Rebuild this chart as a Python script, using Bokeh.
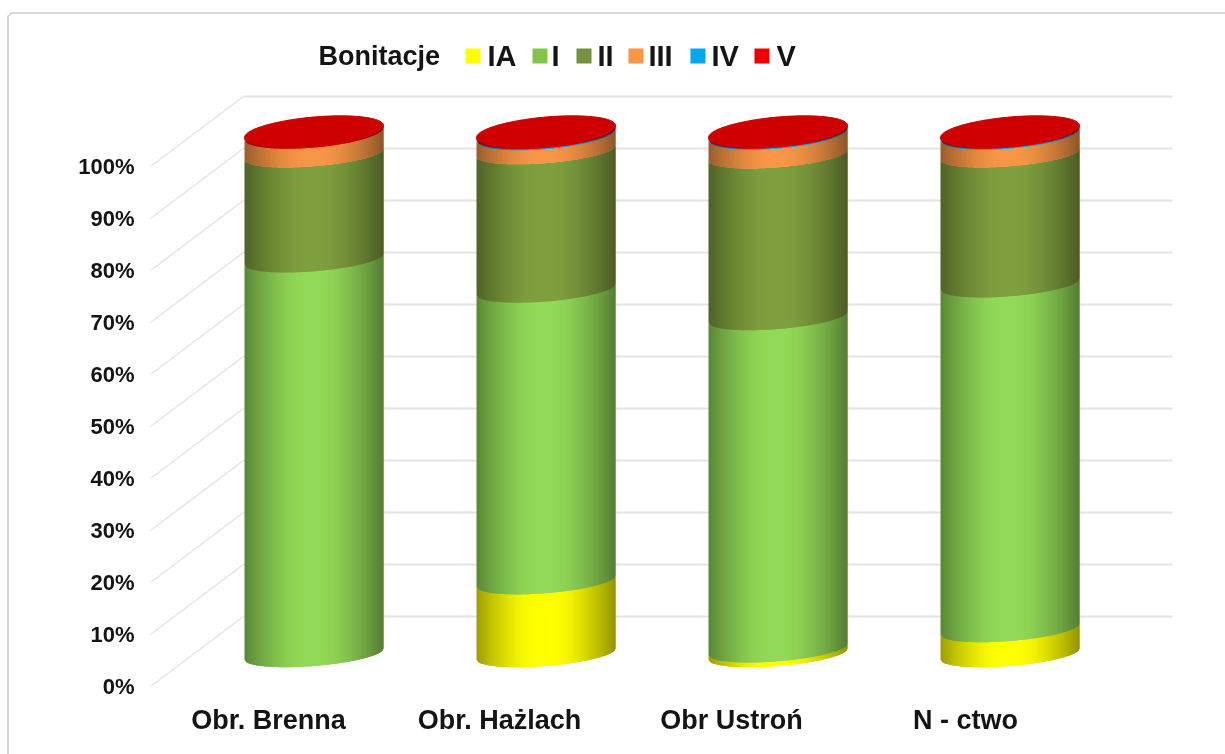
import numpy as np
from bokeh.core.properties import value
from bokeh.embed import file_html
from bokeh.models import Range1d
from bokeh.plotting import figure
from bokeh.resources import INLINE

# ---- data -------------------------------------------------------------
categories = ["Obr. Brenna", "Obr. Hażlach", "Obr Ustroń", "N - ctwo"]
series_names = ["IA", "I", "II", "III", "IV", "V"]
IA = [0.0, 14.0, 0.9, 4.8]
I = [75.9, 56.1, 63.9, 66.3]
II = [20.2, 26.6, 31.1, 25.0]
III = [3.6, 2.7, 3.6, 3.4]
IV = [0.0, 0.2, 0.2, 0.2]
V = [0.3, 0.4, 0.3, 0.3]
tick_values = [0, 10, 20, 30, 40, 50, 60, 70, 80, 90, 100]
tick_labels = ["0%", "10%", "20%", "30%", "40%", "50%", "60%", "70%", "80%", "90%", "100%"]
legend_title = "Bonitacje"

colors = ["#FFFF00", "#92D957", "#7F9F3F", "#F79646", "#00B0F0", "#E00000"]
legend_colors = ["#FFFF00", "#86C349", "#76923C", "#F79646", "#00A8EE", "#F00000"]
top_color = "#CF0000"
FONT = value("Liberation Sans")
INK = "#141414"

# ---- scales: one category step = 232 px, one percent = 5.2 px ----------
W, H = 1225, 754
STEP, PCT = 232.0, 5.2
X0, Y0 = 313.5, 651.0
x_range = Range1d((0 - X0) / STEP, (W - X0) / STEP)
y_range = Range1d((Y0 - H) / PCT, Y0 / PCT)


def xp(px):
    return (px - X0) / STEP


def yp(py):
    return (Y0 - py) / PCT


p = figure(width=W, height=H, x_range=x_range, y_range=y_range,
           output_backend="svg", toolbar_location=None,
           x_axis_location=None, y_axis_location=None,
           min_border=0, outline_line_color=None,
           background_fill_color="white", border_fill_color="white")
p.grid.visible = False
p.styles = {"filter": "blur(0.6px)"}

# ---- card border ------------------------------------------------------
p.line([xp(7.5), xp(7.5), xp(11), xp(W)], [yp(H), yp(16), yp(12.5), yp(12.5)],
       line_color="#D9D9D9", line_width=2)

# ---- walls -------------------------------------------------------------
DEPTH = 35 / PCT
for v in tick_values:
    p.line([xp(150), xp(243)], [v - DEPTH, v + DEPTH], line_color="#E4E4E4", line_width=1.5)
    p.line([xp(243), xp(1172)], [v + DEPTH, v + DEPTH], line_color="#E4E4E4", line_width=2)

# ---- cylinders ---------------------------------------------------------
A = 69.5 / STEP        # half width
B_TOP, T_TOP = 14.5 / PCT, 6.0 / PCT      # ellipse of the top face
B_BODY, T_BODY = 12.0 / PCT, 5.5 / PCT    # flatter rims further down the body
REACH = np.hypot(B_TOP, T_TOP)


def shade(hex_color, u):
    r, g, b = [int(hex_color[i:i + 2], 16) for i in (1, 3, 5)]
    d = abs(u + 0.03)
    f = 1.0 if d < 0.15 else 1.0 - 0.42 * ((d - 0.15) / 0.88) ** 1.5
    return "#%02x%02x%02x" % (int(r * f), int(g * f), int(b * f))


def front(v, u):
    # rim of the cylinder at level v; its lowest point stays tied to the value
    k = np.clip((v - 97.0) / 3.0, 0, 1)
    bb = B_BODY + (B_TOP - B_BODY) * k
    tt = T_BODY + (T_TOP - T_BODY) * k
    lift = REACH - np.hypot(bb, tt)
    return v - lift - bb * np.sqrt(np.maximum(1 - u * u, 0)) + tt * u


edges = np.linspace(-1, 1, 71)
OVERLAP = edges[1] - edges[0]   # every strip runs under its right-hand neighbour
series = [IA, I, II, III, IV, V]
xs, ys, cs = [], [], []
for c in range(len(categories)):
    base = 0.0
    for k, s in enumerate(series):
        val = s[c]
        if val <= 0:
            continue
        for a, b in zip(edges[:-1], edges[1:]):
            us = np.linspace(a, min(b + OVERLAP, 1.0), 4)
            low = front(base, us)
            high = front(base + val, us)
            xs.append(list(c + A * us) + list(c + A * us[::-1]))
            ys.append(list(low) + list(high[::-1]))
            cs.append(shade(colors[k], (a + b) / 2))
        base += val
p.patches(xs, ys, fill_color=cs, line_color=None)

th = np.linspace(0, 2 * np.pi, 120)
for c in range(len(categories)):
    top = sum(s[c] for s in series)
    us = np.cos(th)
    p.patch(c + A * us, top + B_TOP * np.sin(th) + T_TOP * us,
            fill_color=top_color, line_color="#C40000", line_width=1)

# ---- y labels ----------------------------------------------------------
p.text([xp(134)] * len(tick_values), [v - DEPTH for v in tick_values], text=tick_labels,
       text_font=FONT, text_font_style="bold", text_font_size="22px",
       text_color=INK, text_align="right", text_baseline="middle")

# ---- category labels ---------------------------------------------------
cat_px = [268, 499, 731, 965]
p.text([xp(x) for x in cat_px], [yp(719)] * 4, text=categories,
       text_font=FONT, text_font_style="bold", text_font_size="27px",
       text_color=INK, text_align="center", text_baseline="middle")

# ---- legend ------------------------------------------------------------
p.text([xp(318)], [yp(55)], text=[legend_title],
       text_font=FONT, text_font_style="bold", text_font_size="27px",
       text_color=INK, text_align="left", text_baseline="middle")
sq_px = [465, 532, 576, 628, 690, 754]
tx_px = [487, 551, 597, 648, 711, 776]
for name, col, sx, tx in zip(series_names, legend_colors, sq_px, tx_px):
    p.quad(left=[xp(sx)], right=[xp(sx + 15)], top=[yp(48)], bottom=[yp(63)],
           fill_color=col, line_color=None)
    p.text([xp(tx)], [yp(55)], text=[name],
           text_font=FONT, text_font_style="bold", text_font_size="29px",
           text_color=INK, text_align="left", text_baseline="middle")

open("out.html", "w").write(file_html(p, INLINE))
